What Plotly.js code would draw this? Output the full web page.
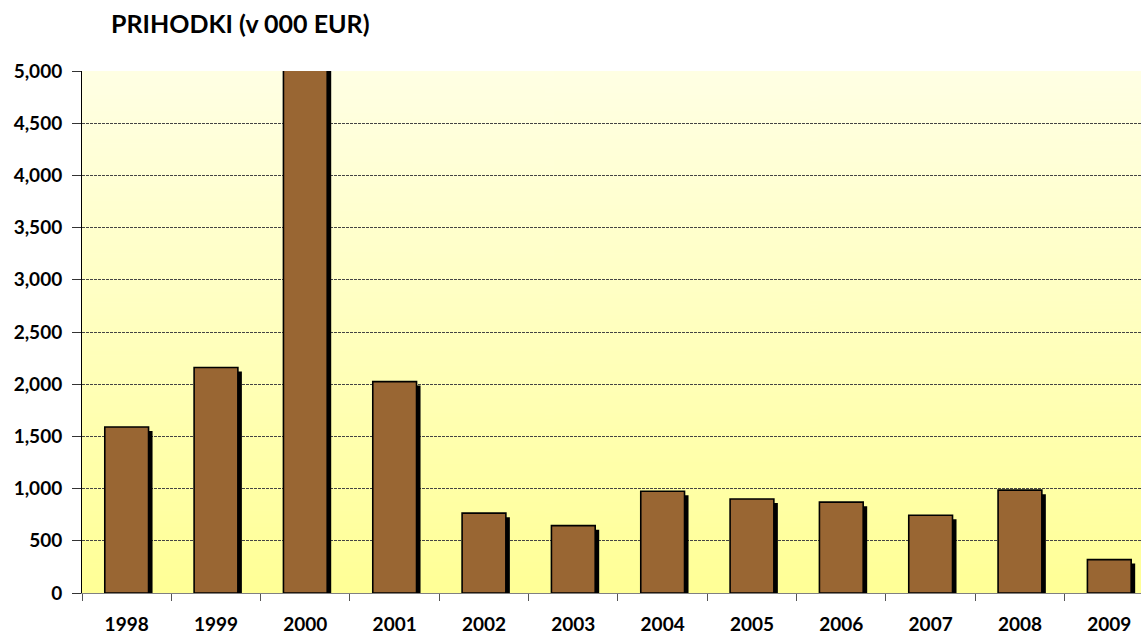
<!DOCTYPE html>
<html>
<head>
<meta charset="utf-8">
<script src="https://cdn.plot.ly/plotly-3.0.1.min.js"></script>
<style>
  html, body { margin: 0; padding: 0; background: #ffffff; }
  #chart { width: 1141px; height: 636px; }
</style>
</head>
<body>
<div id="chart"></div>
<script>
// ---- data ----
const years = ['1998','1999','2000','2001','2002','2003','2004','2005','2006','2007','2008','2009'];
const revenue = [1590, 2160, 5100, 2025, 765, 645, 975, 900, 870, 745, 985, 320];
const yTickVals = [0, 500, 1000, 1500, 2000, 2500, 3000, 3500, 4000, 4500, 5000];
const chartTitle = 'PRIHODKI (v 000 EUR)';

// ---- geometry helpers (styles only) ----
const W = 1141, H = 636;
const margin = {l: 82, r: 0, t: 71, b: 43};
const plotW = W - margin.l - margin.r;
const plotH = H - margin.t - margin.b;
const yMax = 5000;
const catPx = 89.33;                         // pixels per category in the reference
const xMax = -0.5 + plotW / catPx;           // chart is cut at the right edge
const barWidth = 0.49;
const shadowDx = 4 / catPx;                  // shadow offset in category units
const shadowDy = 4 * yMax / plotH;           // shadow offset in value units

// gradient background image for plot area
const cv = document.createElement('canvas');
cv.width = 8; cv.height = 256;
const ctx = cv.getContext('2d');
const g = ctx.createLinearGradient(0, 0, 0, 256);
g.addColorStop(0, '#FFFFE4');
g.addColorStop(0.45, '#FFFFC2');
g.addColorStop(1, '#FFFF96');
ctx.fillStyle = g;
ctx.fillRect(0, 0, 8, 256);
const bgURL = cv.toDataURL('image/png');

const shadow = {
  type: 'bar',
  x: years,
  y: revenue.map(v => Math.max(v - shadowDy, 0)),
  width: barWidth,
  offset: -barWidth / 2 + shadowDx,
  marker: {color: '#000000', line: {width: 0}},
  hoverinfo: 'skip',
  showlegend: false
};
const bars = {
  type: 'bar',
  x: years,
  y: revenue,
  width: barWidth,
  offset: -barWidth / 2,
  marker: {color: '#996633', line: {color: '#000000', width: 1.6}},
  showlegend: false
};

const tickFont = {family: 'Lato, "Open Sans", sans-serif', size: 19, color: '#000000', weight: 'bold'};

const layout = {
  width: W, height: H,
  margin: margin,
  paper_bgcolor: '#ffffff',
  plot_bgcolor: 'rgba(0,0,0,0)',
  barmode: 'overlay',
  hovermode: false,
  showlegend: false,
  title: {
    text: '<b>' + chartTitle + '</b>',
    font: {family: 'Lato, "Open Sans", sans-serif', size: 25, color: '#000000'},
    xref: 'container', yref: 'container',
    x: 111 / W, xanchor: 'left',
    y: 1 - 24 / H, yanchor: 'middle'
  },
  images: [{
    source: bgURL,
    xref: 'paper', yref: 'paper',
    x: 0, y: 1, sizex: 1, sizey: 1,
    xanchor: 'left', yanchor: 'top',
    sizing: 'stretch', layer: 'below'
  }],
  xaxis: {
    type: 'category',
    range: [-0.5, xMax],
    showgrid: false,
    showline: true, linecolor: '#808080', linewidth: 1,
    ticks: 'outside', tickson: 'boundaries', ticklen: 7, tickcolor: '#555555', tickwidth: 1,
    tickfont: tickFont,
    ticklabelstandoff: 14,
    zeroline: false,
    fixedrange: true
  },
  yaxis: {
    range: [0, yMax],
    tickvals: yTickVals,
    tickformat: ',d',
    showgrid: true, gridcolor: '#444444', gridwidth: 1, griddash: '3px,1px',
    showline: true, linecolor: '#000000', linewidth: 1,
    ticks: 'outside', ticklen: 9, tickcolor: '#333333', tickwidth: 1,
    tickfont: tickFont,
    ticklabelstandoff: 6,
    zeroline: false,
    fixedrange: true
  }
};

Plotly.newPlot('chart', [shadow, bars], layout, {displayModeBar: false, staticPlot: true});
</script>
</body>
</html>
